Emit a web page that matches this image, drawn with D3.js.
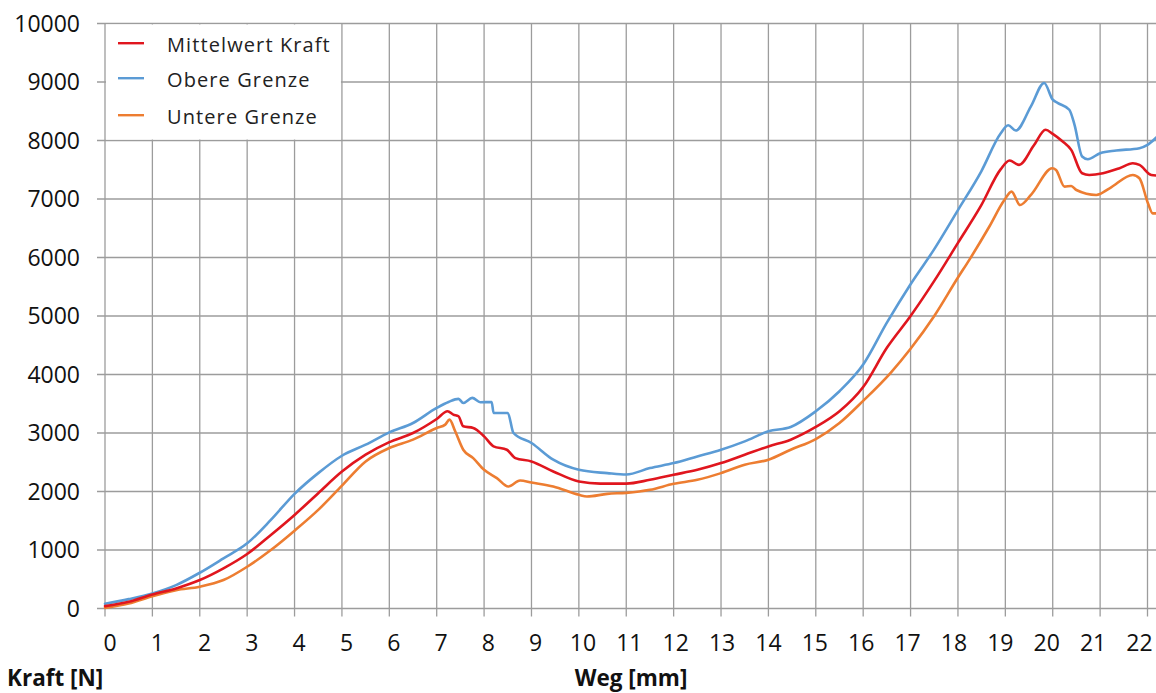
<!DOCTYPE html>
<html>
<head>
<meta charset="utf-8">
<script src="https://cdn.jsdelivr.net/npm/d3@7"></script>
<style>
  html, body { margin: 0; padding: 0; background: #fff; }
  svg { display: block; }
</style>
</head>
<body>
<svg id="chart" width="1156" height="693"></svg>
<script>
// Kraft-Weg-Verlauf: Mittelwert mit oberer und unterer Grenze
const wegTicks = d3.range(0, 23);               // 0 … 22 mm
const kraftTicks = d3.range(0, 10001, 1000);    // 0 … 10000 N

const mittelWeg = [0, 0.5, 1, 1.5, 2, 2.5, 3, 3.5, 4, 4.5, 5, 5.5, 6, 6.5, 7, 7.23, 7.35, 7.46, 7.56, 7.77, 8, 8.2, 8.48, 8.66, 9, 9.46, 10, 10.45, 11, 11.5, 12, 12.5, 13, 13.5, 14, 14.47, 15, 15.5, 16, 16.5, 17, 17.5, 18, 18.49, 18.9, 19.09, 19.29, 19.6, 19.85, 20, 20.21, 20.39, 20.62, 20.77, 21.06, 21.41, 21.69, 21.83, 22.08, 22.2];
const mittelKraft = [40, 114, 240, 343, 486, 686, 931, 1257, 1600, 1971, 2340, 2629, 2843, 3000, 3240, 3371, 3314, 3286, 3114, 3086, 2943, 2771, 2714, 2571, 2514, 2343, 2171, 2135, 2135, 2200, 2286, 2371, 2486, 2629, 2771, 2886, 3103, 3371, 3786, 4457, 5000, 5600, 6250, 6890, 7506, 7657, 7583, 7914, 8183, 8114, 7983, 7840, 7440, 7411, 7440, 7526, 7611, 7583, 7411, 7400];

const obereWeg = [0, 0.5, 1, 1.5, 2, 2.5, 3, 3.5, 4, 4.5, 5, 5.5, 6, 6.5, 7, 7.25, 7.46, 7.56, 7.75, 7.92, 8.16, 8.2, 8.5, 8.62, 9, 9.46, 10, 10.6, 11, 11.5, 12, 12.5, 13, 13.5, 14, 14.47, 15, 15.5, 16, 16.5, 17, 17.5, 18, 18.49, 18.9, 19.06, 19.22, 19.54, 19.82, 20, 20.11, 20.35, 20.46, 20.62, 20.74, 21, 21.34, 21.83, 22, 22.2];
const obereKraft = [80, 160, 257, 400, 611, 857, 1114, 1514, 1960, 2314, 2611, 2800, 3011, 3171, 3429, 3531, 3583, 3514, 3600, 3526, 3531, 3343, 3343, 3000, 2829, 2543, 2371, 2314, 2290, 2400, 2486, 2600, 2714, 2857, 3029, 3103, 3371, 3714, 4170, 4886, 5543, 6143, 6810, 7470, 8120, 8260, 8170, 8583, 8983, 8697, 8640, 8526, 8269, 7726, 7680, 7783, 7829, 7869, 7926, 8060];

const untereWeg = [0, 0.5, 1, 1.5, 2, 2.5, 3, 3.5, 4, 4.5, 5, 5.5, 6, 6.5, 7, 7.18, 7.27, 7.39, 7.56, 7.77, 8, 8.27, 8.51, 8.76, 9, 9.46, 10, 10.17, 10.6, 11, 11.5, 12, 12.5, 13, 13.5, 14, 14.47, 15, 15.5, 16, 16.58, 17, 17.5, 18, 18.24, 18.66, 18.98, 19.13, 19.31, 19.55, 19.99, 20.07, 20.25, 20.39, 20.5, 20.92, 21.2, 21.69, 21.83, 22.01, 22.11, 22.2];
const untereKraft = [10, 86, 211, 314, 373, 486, 714, 1000, 1331, 1686, 2100, 2514, 2743, 2886, 3086, 3143, 3229, 3029, 2714, 2571, 2371, 2229, 2086, 2189, 2154, 2086, 1943, 1914, 1960, 1977, 2029, 2131, 2200, 2314, 2457, 2543, 2714, 2897, 3171, 3550, 4029, 4440, 5000, 5657, 5960, 6526, 6983, 7126, 6897, 7080, 7526, 7497, 7211, 7223, 7154, 7069, 7183, 7411, 7354, 6926, 6754, 6754];

const seriesNames = ["Mittelwert Kraft", "Obere Grenze", "Untere Grenze"];
const seriesColors = ["#e0161e", "#5b9bd5", "#ed7d31"];

const series = [
  { name: seriesNames[0], color: seriesColors[0], pts: d3.zip(mittelWeg, mittelKraft) },
  { name: seriesNames[1], color: seriesColors[1], pts: d3.zip(obereWeg, obereKraft) },
  { name: seriesNames[2], color: seriesColors[2], pts: d3.zip(untereWeg, untereKraft) }
];

const svg = d3.select("#chart");
const W = 1156;

const x = d3.scaleLinear().domain([0, 22]).range([105, 1147.5]);
const y = d3.scaleLinear().domain([0, 10000]).range([608.5, 23.5]);
// tick labels sit on a slightly tighter spacing than the grid
const xLabel = d3.scaleLinear().domain([0, 10, 22]).range([110, 583, 1139.5]);

const gridColor = "#9c9c9c";
const tickOut = 8;

// vertical grid lines (run slightly below the zero line as tick marks)
svg.append("g").selectAll("line")
  .data(wegTicks)
  .join("line")
  .attr("x1", d => x(d)).attr("x2", d => x(d))
  .attr("y1", y(10000)).attr("y2", y(0) + tickOut)
  .attr("stroke", gridColor).attr("stroke-width", 1.3);

// horizontal grid lines (run slightly left of the zero line as tick marks)
svg.append("g").selectAll("line")
  .data(kraftTicks)
  .join("line")
  .attr("x1", x(0) - tickOut).attr("x2", W)
  .attr("y1", d => y(d)).attr("y2", d => y(d))
  .attr("stroke", gridColor).attr("stroke-width", 1.3);

// y tick labels
svg.append("g").selectAll("text")
  .data(kraftTicks)
  .join("text")
  .attr("x", 80).attr("y", d => y(d))
  .attr("dy", "0.36em")
  .attr("text-anchor", "end")
  .attr("font-family", "'Open Sans', sans-serif")
  .attr("font-size", 23)
  .attr("fill", "#111")
  .text(d => d);

// x tick labels
svg.append("g").selectAll("text")
  .data(wegTicks)
  .join("text")
  .attr("x", d => xLabel(d)).attr("y", 651)
  .attr("text-anchor", "middle")
  .attr("font-family", "'Open Sans', sans-serif")
  .attr("font-size", 23)
  .attr("fill", "#111")
  .text(d => d);

// axis titles
svg.append("text")
  .attr("x", 7).attr("y", 686)
  .attr("font-family", "'Open Sans', sans-serif")
  .attr("font-weight", "bold")
  .attr("font-size", 22.5)
  .attr("fill", "#111")
  .text("Kraft [N]");

svg.append("text")
  .attr("x", 631).attr("y", 686)
  .attr("text-anchor", "middle")
  .attr("font-family", "'Open Sans', sans-serif")
  .attr("font-weight", "bold")
  .attr("font-size", 22.5)
  .attr("fill", "#111")
  .text("Weg [mm]");

// data lines
svg.append("defs").append("clipPath").attr("id", "plotClip")
  .append("rect").attr("x", 0).attr("y", 0).attr("width", W).attr("height", y(0) + 2);

const line = d3.line()
  .x(d => x(d[0]))
  .y(d => y(d[1]))
  .curve(d3.curveMonotoneX);

// draw order: lower, upper, mean on top
const drawOrder = [series[2], series[1], series[0]];
svg.append("g").attr("clip-path", "url(#plotClip)")
  .selectAll("path")
  .data(drawOrder)
  .join("path")
  .attr("d", d => line(d.pts))
  .attr("fill", "none")
  .attr("stroke", d => d.color)
  .attr("stroke-width", 2.6)
  .attr("stroke-linejoin", "round")
  .attr("stroke-linecap", "round");

// legend
const legend = svg.append("g");
legend.append("rect")
  .attr("x", x(0) + 1).attr("y", y(10000) + 1)
  .attr("width", x(5) - x(0) - 2).attr("height", y(8000) - y(10000) - 2)
  .attr("fill", "#fff");

const legendRowY = [44.5, 79.5, 116.5];
const rows = legend.selectAll("g.row")
  .data(series)
  .join("g")
  .attr("class", "row")
  .attr("transform", (d, i) => `translate(0,${legendRowY[i]})`);

rows.append("line")
  .attr("x1", 118).attr("x2", 144)
  .attr("y1", -1.3).attr("y2", -1.3)
  .attr("stroke", d => d.color)
  .attr("stroke-width", 2.4);

rows.append("text")
  .attr("x", 167).attr("y", 0)
  .attr("dy", "0.36em")
  .attr("font-family", "'Open Sans', sans-serif")
  .attr("font-size", 20)
  .attr("letter-spacing", 1.1)
  .attr("fill", "#222")
  .text(d => d.name);
</script>
</body>
</html>
